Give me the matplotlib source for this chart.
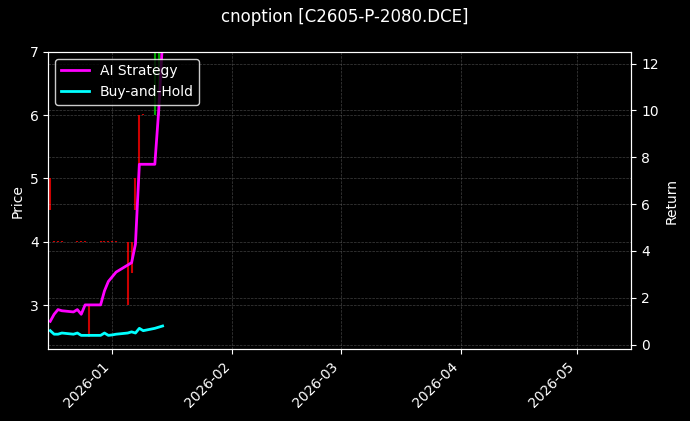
import matplotlib
matplotlib.use("Agg")
import matplotlib.pyplot as plt
import matplotlib.dates as mdates
import pandas as pd
import numpy as np

dates = pd.to_datetime(["2025-12-16","2025-12-17","2025-12-18","2025-12-19","2025-12-22","2025-12-23",
    "2025-12-24","2025-12-25","2025-12-26","2025-12-29","2025-12-30","2025-12-31","2026-01-01",
    "2026-01-02","2026-01-05","2026-01-06","2026-01-07","2026-01-08","2026-01-09","2026-01-12",
    "2026-01-13","2026-01-14"])
opens  = [5.0,4.0,4.0,4.0,3.5,4.0,4.0,4.0,3.0,4.0,4.0,4.0,4.0,4.0,4.0,4.0,5.0,6.0,6.0,6.0,6.0,7.0]
closes = [4.5,4.0,4.0,4.0,3.5,4.0,4.0,4.0,2.5,4.0,4.0,4.0,4.0,4.0,3.0,3.5,4.5,5.0,6.0,7.0,7.0,7.0]
ai_ret = [1.0,1.3,1.5,1.45,1.4,1.5,1.3,1.7,1.7,1.7,2.3,2.7,2.9,3.1,3.4,3.5,4.3,7.7,7.7,7.7,10.0,13.0]
bh_ret = [0.6,0.45,0.45,0.5,0.45,0.5,0.4,0.4,0.4,0.4,0.5,0.4,0.42,0.45,0.5,0.55,0.5,0.7,0.6,0.7,0.75,0.8]

plt.style.use("dark_background")
fig, ax = plt.subplots(figsize=(6.9, 4.21), dpi=100)
fig.patch.set_facecolor("black")
ax.set_facecolor("black")
for d, o, c in zip(dates, opens, closes):
    col = "#00cc00" if c > o else "red"
    lo, hi = min(o, c), max(o, c)
    if hi - lo < 0.01:
        hi += 0.01
    ax.vlines(d, lo, hi, color=col, linewidth=1.5, alpha=0.8)
ax.set_ylim(2.3, 7)
ax.set_ylabel("Price")
ax.set_xlim(pd.Timestamp("2025-12-15 12:00"), pd.Timestamp("2026-05-15"))
ax.xaxis.set_major_locator(mdates.MonthLocator())
ax.xaxis.set_major_formatter(mdates.DateFormatter("%Y-%m"))
plt.setp(ax.get_xticklabels(), rotation=45, ha="right")
ax.grid(True, color="gray", linestyle="--", linewidth=0.5, alpha=0.5)

ax2 = ax.twinx()
ax2.plot(dates, ai_ret, color="magenta", linewidth=2, label="AI Strategy")
ax2.plot(dates, bh_ret, color="cyan", linewidth=2, label="Buy-and-Hold")
ax2.set_ylim(-0.2, 12.5)
ax2.set_ylabel("Return")
ax2.grid(True, color="gray", linestyle="--", linewidth=0.5, alpha=0.5)
ax2.legend(loc="upper left", facecolor="black", edgecolor="white")
fig.suptitle("cnoption [C2605-P-2080.DCE]")
fig.subplots_adjust(left=0.07, right=0.915, top=0.877, bottom=0.17)
fig.savefig("out.png", dpi=100, facecolor="black")
